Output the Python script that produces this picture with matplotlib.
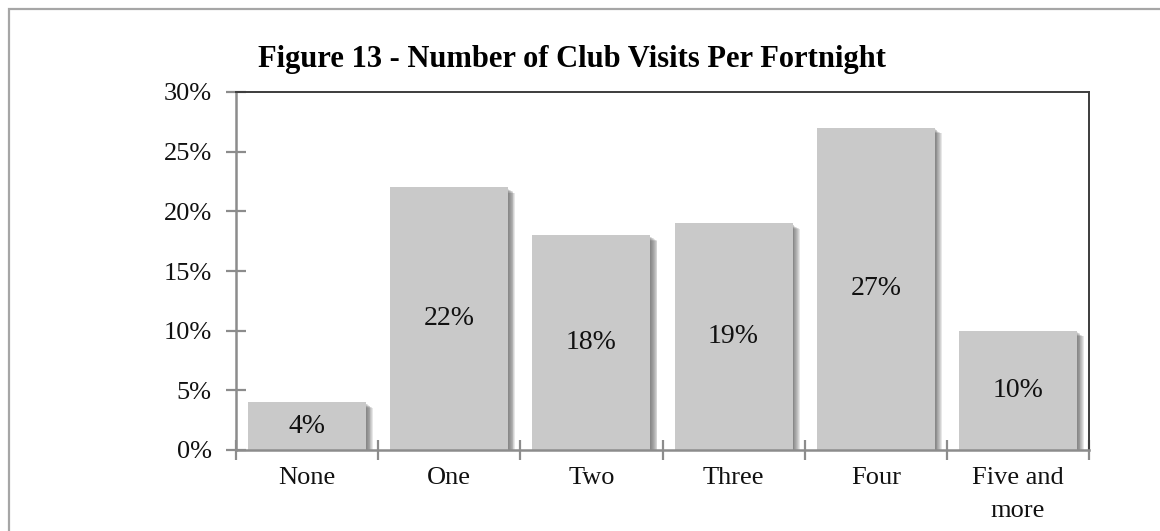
import matplotlib
matplotlib.use("Agg")
import matplotlib.pyplot as plt
from matplotlib.patches import Rectangle
import matplotlib.transforms as mtransforms

categories = ["None", "One", "Two", "Three", "Four", "Five and\nmore"]
values = [4, 22, 18, 19, 27, 10]
yticks = [0, 5, 10, 15, 20, 25, 30]
title = "Figure 13 - Number of Club Visits Per Fortnight"

plt.rcParams["font.family"] = ["Liberation Serif", "DejaVu Serif"]

W, H = 1160, 531
fig = plt.figure(figsize=(W / 100, H / 100), dpi=100)
fig.patch.set_facecolor("white")

# Outer chart border (open on the right and bottom edges)
fig.patches.append(Rectangle((9 / W, -0.05), 1.1, 1 - 9 / H + 0.05,
                             transform=fig.transFigure, fill=False,
                             edgecolor="#a6a6a6", linewidth=1.6, zorder=0))

ax = fig.add_axes([236 / W, 81 / H, (1089 - 236) / W, (450 - 92) / H])
x = list(range(len(categories)))
bw = 0.83

# Soft drop shadow behind each bar
for k in range(8):
    off = mtransforms.offset_copy(ax.transData, fig=fig, x=1.0 + k * 0.85,
                                  y=-(1.5 + k * 0.6), units="dots")
    ax.bar(x, values, width=bw, color="#5e5e5e", alpha=0.15,
           transform=off, zorder=1, linewidth=0)

bars = ax.bar(x, values, width=bw, color="#c9c9c9", edgecolor="none", zorder=2)

for xi, v in zip(x, values):
    ax.text(xi, v / 2, f"{v}%", ha="center", va="center",
            fontsize=20, color="#111111", zorder=3)

ax.set_xlim(-0.5, len(categories) - 0.5)
ax.set_ylim(0, 30)
ax.set_yticks(yticks)
ax.set_yticklabels([f"{t}%" for t in yticks])

ax.set_xticks([i - 0.5 for i in range(len(categories) + 1)])
ax.set_xticklabels([])
ax.set_xticks(x, minor=True)
ax.set_xticklabels(categories, minor=True)

ax.tick_params(axis="y", direction="inout", length=15, width=1.6,
               color="#8c8c8c", labelsize=19, pad=10, labelcolor="#111111")
ax.tick_params(axis="x", which="major", direction="inout", length=15,
               width=1.6, color="#8c8c8c")
ax.tick_params(axis="x", which="minor", length=0, labelsize=19, pad=12,
               labelcolor="#111111")
for lbl in ax.get_xticklabels(minor=True):
    lbl.set_linespacing(1.65)

for side in ("left", "bottom"):
    ax.spines[side].set_color("#8c8c8c")
    ax.spines[side].set_linewidth(1.8)
for side in ("top", "right"):
    ax.spines[side].set_color("#3c3c3c")
    ax.spines[side].set_linewidth(1.4)

fig.text(572 / W, 1 - 60 / H, title, ha="center", va="center",
         fontsize=22, fontweight="bold", color="#000000")

fig.savefig("out.png", dpi=100, facecolor="white")
